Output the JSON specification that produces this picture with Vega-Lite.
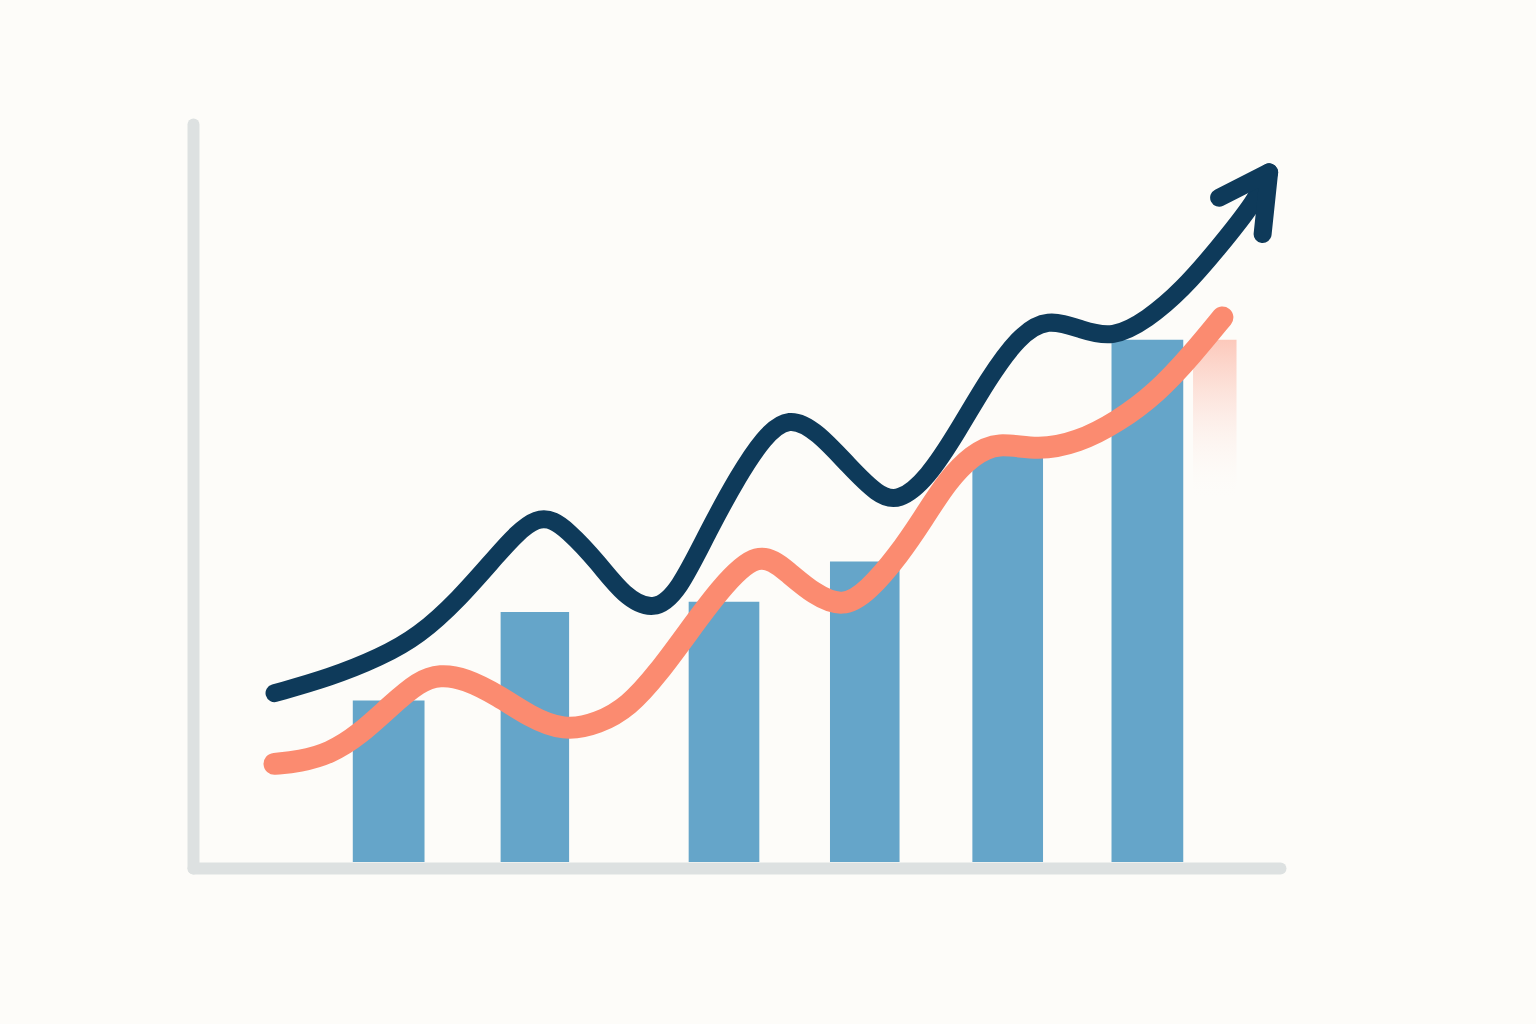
{
  "$schema": "https://vega.github.io/schema/vega-lite/v6.json",
  "width": 1087,
  "height": 744,
  "autosize": {"type": "none"},
  "padding": {"left": 193, "top": 124, "right": 256, "bottom": 156},
  "background": "#fdfcf9",
  "config": {"view": {"stroke": null}},
  "datasets": {
    "bars": [
      {"x": 14.7, "x2": 21.3, "v": 22.5},
      {"x": 28.3, "x2": 34.6, "v": 34.4},
      {"x": 45.6, "x2": 52.1, "v": 35.8},
      {"x": 58.6, "x2": 65.0, "v": 41.2},
      {"x": 71.7, "x2": 78.2, "v": 56.5},
      {"x": 84.5, "x2": 91.1, "v": 71.0}
    ],
    "dark": [
      {"t": 7.5, "v": 23.5}, {"t": 12.6, "v": 25.6}, {"t": 17.2, "v": 28.3}, {"t": 20.8, "v": 31.2},
      {"t": 24.5, "v": 36.2}, {"t": 27.7, "v": 41.6}, {"t": 31.8, "v": 48.3}, {"t": 34.6, "v": 45.3},
      {"t": 37.3, "v": 41.0}, {"t": 39.6, "v": 36.6}, {"t": 42.4, "v": 34.4}, {"t": 44.7, "v": 37.2},
      {"t": 47.4, "v": 45.3}, {"t": 50.2, "v": 52.8}, {"t": 52.5, "v": 57.9}, {"t": 54.8, "v": 60.8},
      {"t": 57.5, "v": 58.6}, {"t": 60.3, "v": 54.1}, {"t": 63.0, "v": 50.1}, {"t": 64.9, "v": 49.2},
      {"t": 67.6, "v": 52.4}, {"t": 70.4, "v": 58.8}, {"t": 73.1, "v": 65.6}, {"t": 75.9, "v": 71.4},
      {"t": 78.6, "v": 74.0}, {"t": 81.8, "v": 72.3}, {"t": 84.6, "v": 71.2}, {"t": 87.8, "v": 73.7},
      {"t": 91.0, "v": 77.7}, {"t": 94.2, "v": 83.1}, {"t": 97.9, "v": 89.9}, {"t": 99.0, "v": 93.5}
    ],
    "head": [
      {"o": 1, "t": 94.4, "v": 90.1},
      {"o": 2, "t": 99.0, "v": 93.5},
      {"o": 3, "t": 98.4, "v": 85.2}
    ],
    "orange": [
      {"t": 7.5, "v": 14.0}, {"t": 9.8, "v": 14.3}, {"t": 12.6, "v": 15.4}, {"t": 15.3, "v": 17.9},
      {"t": 18.1, "v": 21.7}, {"t": 20.8, "v": 25.1}, {"t": 22.7, "v": 26.0}, {"t": 25.0, "v": 25.5},
      {"t": 28.2, "v": 23.1}, {"t": 30.9, "v": 20.4}, {"t": 34.1, "v": 18.4}, {"t": 37.3, "v": 19.4},
      {"t": 40.1, "v": 21.7}, {"t": 42.8, "v": 26.2}, {"t": 45.6, "v": 31.8}, {"t": 48.3, "v": 37.2},
      {"t": 52.0, "v": 43.0}, {"t": 54.8, "v": 39.7}, {"t": 57.1, "v": 36.8}, {"t": 59.8, "v": 35.0},
      {"t": 62.1, "v": 37.2}, {"t": 64.9, "v": 42.0}, {"t": 67.2, "v": 47.0}, {"t": 69.4, "v": 52.1},
      {"t": 71.7, "v": 55.5}, {"t": 74.0, "v": 57.3}, {"t": 77.7, "v": 56.1}, {"t": 81.4, "v": 57.2},
      {"t": 85.0, "v": 59.9}, {"t": 88.7, "v": 63.9}, {"t": 91.9, "v": 69.0}, {"t": 94.7, "v": 74.0}
    ],
    "glow": [
      {"x": 92.0, "x2": 96.0, "y": 71.0, "y2": 49.5}
    ]
  },
  "layer": [
    {
      "data": {"name": "bars"},
      "mark": {"type": "rect", "color": "#65a5c9"},
      "encoding": {
        "x": {"field": "x", "type": "quantitative", "scale": {"domain": [0, 100]},
              "axis": {"title": null, "labels": false, "ticks": false, "grid": false, "domainColor": "#dde1e1", "domainWidth": 12, "domainCap": "round"}},
        "x2": {"field": "x2"},
        "y": {"field": "v", "type": "quantitative", "scale": {"domain": [0, 100]},
              "axis": {"title": null, "labels": false, "ticks": false, "grid": false, "domainColor": "#dde1e1", "domainWidth": 12, "domainCap": "round"}},
        "y2": {"datum": 0.8}
      }
    },
    {
      "data": {"name": "glow"},
      "mark": {"type": "rect", "color": {"gradient": "linear", "x1": 0, "y1": 0, "x2": 0, "y2": 1,
        "stops": [{"offset": 0, "color": "rgba(251,139,112,0.45)"}, {"offset": 0.5, "color": "rgba(251,160,140,0.15)"}, {"offset": 1, "color": "rgba(253,252,249,0)"}]}},
      "encoding": {
        "x": {"field": "x", "type": "quantitative"},
        "x2": {"field": "x2"},
        "y": {"field": "y", "type": "quantitative"},
        "y2": {"field": "y2"}
      }
    },
    {
      "data": {"name": "orange"},
      "mark": {"type": "line", "color": "#fb8b70", "strokeWidth": 22, "strokeCap": "round", "strokeJoin": "round", "interpolate": "basis"},
      "encoding": {
        "x": {"field": "t", "type": "quantitative"},
        "y": {"field": "v", "type": "quantitative"}
      }
    },
    {
      "data": {"name": "dark"},
      "mark": {"type": "line", "color": "#0e3a5a", "strokeWidth": 18, "strokeCap": "round", "strokeJoin": "round", "interpolate": "basis"},
      "encoding": {
        "x": {"field": "t", "type": "quantitative"},
        "y": {"field": "v", "type": "quantitative"}
      }
    },
    {
      "data": {"name": "head"},
      "mark": {"type": "line", "color": "#0e3a5a", "strokeWidth": 18, "strokeCap": "round", "strokeJoin": "round"},
      "encoding": {
        "x": {"field": "t", "type": "quantitative"},
        "y": {"field": "v", "type": "quantitative"},
        "order": {"field": "o"}
      }
    }
  ]
}
